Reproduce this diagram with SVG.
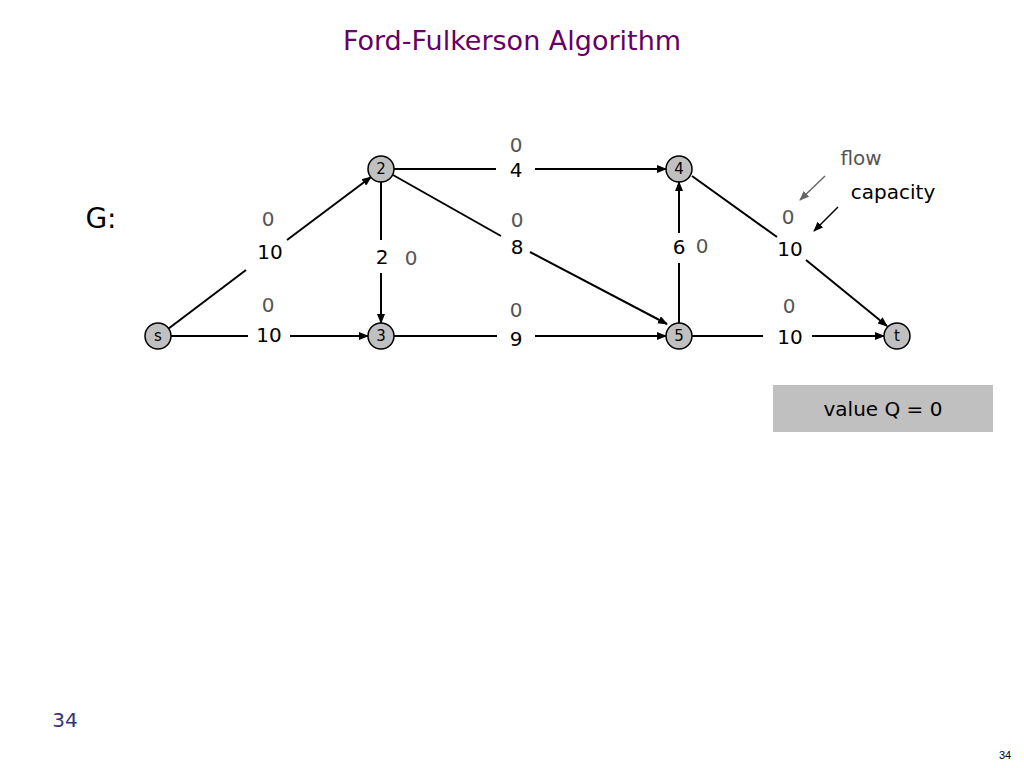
<svg xmlns="http://www.w3.org/2000/svg" width="1024" height="768" viewBox="0 0 1024 768">
<defs>
<marker id="ah" markerWidth="10" markerHeight="8" refX="9" refY="4" orient="auto" markerUnits="userSpaceOnUse">
<path d="M0,0 L10,4 L0,8 z" fill="#000"/>
</marker>
<marker id="ahg" markerWidth="10" markerHeight="8" refX="9" refY="4" orient="auto" markerUnits="userSpaceOnUse">
<path d="M0,0 L10,4 L0,8 z" fill="#666"/>
</marker>
<style>
.e{stroke:#000;stroke-width:2;fill:none}
.ea{stroke:#000;stroke-width:2;fill:none;marker-end:url(#ah)}
.n circle{fill:#c0c0c0;stroke:#000;stroke-width:1.5}
.n text{font-family:"DejaVu Sans",sans-serif;font-size:15px;fill:#000;text-anchor:middle;dominant-baseline:central}
.cap{font-family:"DejaVu Sans",sans-serif;font-size:20px;fill:#000;text-anchor:middle;dominant-baseline:central}
.flw{font-family:"DejaVu Sans",sans-serif;font-size:20px;fill:#555;text-anchor:middle;dominant-baseline:central}
</style>
</defs>
<rect width="1024" height="768" fill="#fff"/>
<text x="512" y="40" font-family="DejaVu Sans, sans-serif" font-size="27" fill="#660066" text-anchor="middle" dominant-baseline="central">Ford-Fulkerson Algorithm</text>
<text x="101" y="218" font-family="DejaVu Sans, sans-serif" font-size="28" fill="#000" text-anchor="middle" dominant-baseline="central">G:</text>
<g id="connectors">
<line class="e" x1="168" y1="329" x2="246" y2="270"/>
<line class="ea" x1="287" y1="240" x2="371" y2="177"/>
<line class="e" x1="171" y1="336" x2="248" y2="336"/>
<line class="ea" x1="290" y1="336" x2="368" y2="336"/>
<line class="e" x1="394" y1="169" x2="496" y2="169"/>
<line class="ea" x1="535" y1="169" x2="666" y2="169"/>
<line class="e" x1="393" y1="175" x2="501" y2="236"/>
<line class="ea" x1="530" y1="252" x2="667" y2="324"/>
<line class="e" x1="381" y1="182" x2="381" y2="240"/>
<line class="ea" x1="381" y1="273" x2="381" y2="323"/>
<line class="e" x1="394" y1="336" x2="497" y2="336"/>
<line class="ea" x1="535" y1="336" x2="666" y2="336"/>
<line class="e" x1="679" y1="323" x2="679" y2="263"/>
<line class="ea" x1="679" y1="233" x2="679" y2="182"/>
<line class="e" x1="692" y1="176" x2="777" y2="237"/>
<line class="ea" x1="806" y1="260" x2="887" y2="326"/>
<line class="e" x1="692" y1="336" x2="763" y2="336"/>
<line class="ea" x1="812" y1="336" x2="884" y2="336"/>
<line x1="825" y1="176" x2="800" y2="200" stroke="#666" stroke-width="1.5" marker-end="url(#ahg)"/>
<line x1="838" y1="207" x2="814" y2="231" stroke="#000" stroke-width="1.5" marker-end="url(#ah)"/>
</g>
<g id="labels">
<text class="flw" x="268" y="219">0</text><text class="cap" x="270" y="252">10</text>
<text class="flw" x="268" y="305">0</text><text class="cap" x="269" y="335">10</text>
<text class="flw" x="516" y="145">0</text><text class="cap" x="516" y="170">4</text>
<text class="flw" x="517" y="220">0</text><text class="cap" x="517" y="247">8</text>
<text class="cap" x="382" y="257">2</text><text class="flw" x="411" y="258">0</text>
<text class="flw" x="516" y="310">0</text><text class="cap" x="516" y="339">9</text>
<text class="cap" x="679" y="247">6</text><text class="flw" x="702" y="246">0</text>
<text class="flw" x="788" y="217">0</text><text class="cap" x="790" y="249">10</text>
<text class="flw" x="789" y="306">0</text><text class="cap" x="790" y="337">10</text>
<text class="flw" x="861" y="158">flow</text>
<text class="cap" x="893" y="192">capacity</text>
</g>
<g id="s" class="n"><circle cx="158" cy="336" r="13"/><text x="158" y="336">s</text></g>
<g id="n2" class="n"><circle cx="381" cy="169" r="13"/><text x="381" y="169">2</text></g>
<g id="n3" class="n"><circle cx="381" cy="336" r="13"/><text x="381" y="336">3</text></g>
<g id="n4" class="n"><circle cx="679" cy="169" r="13"/><text x="679" y="169">4</text></g>
<g id="n5" class="n"><circle cx="679" cy="336" r="13"/><text x="679" y="336">5</text></g>
<g id="t" class="n"><circle cx="897" cy="336" r="13"/><text x="897" y="336">t</text></g>
<g id="value">
<rect x="773" y="385" width="220" height="47" fill="#c0c0c0"/>
<text x="883" y="409" font-family="DejaVu Sans, sans-serif" font-size="20" fill="#000" text-anchor="middle" dominant-baseline="central">value Q = 0</text>
</g>
<text x="65" y="720" font-family="DejaVu Sans, sans-serif" font-size="20" fill="#333377" text-anchor="middle" dominant-baseline="central">34</text>
<text x="1005" y="755" font-family="Liberation Sans, sans-serif" font-size="11" fill="#000" text-anchor="middle" dominant-baseline="central">34</text>
</svg>
